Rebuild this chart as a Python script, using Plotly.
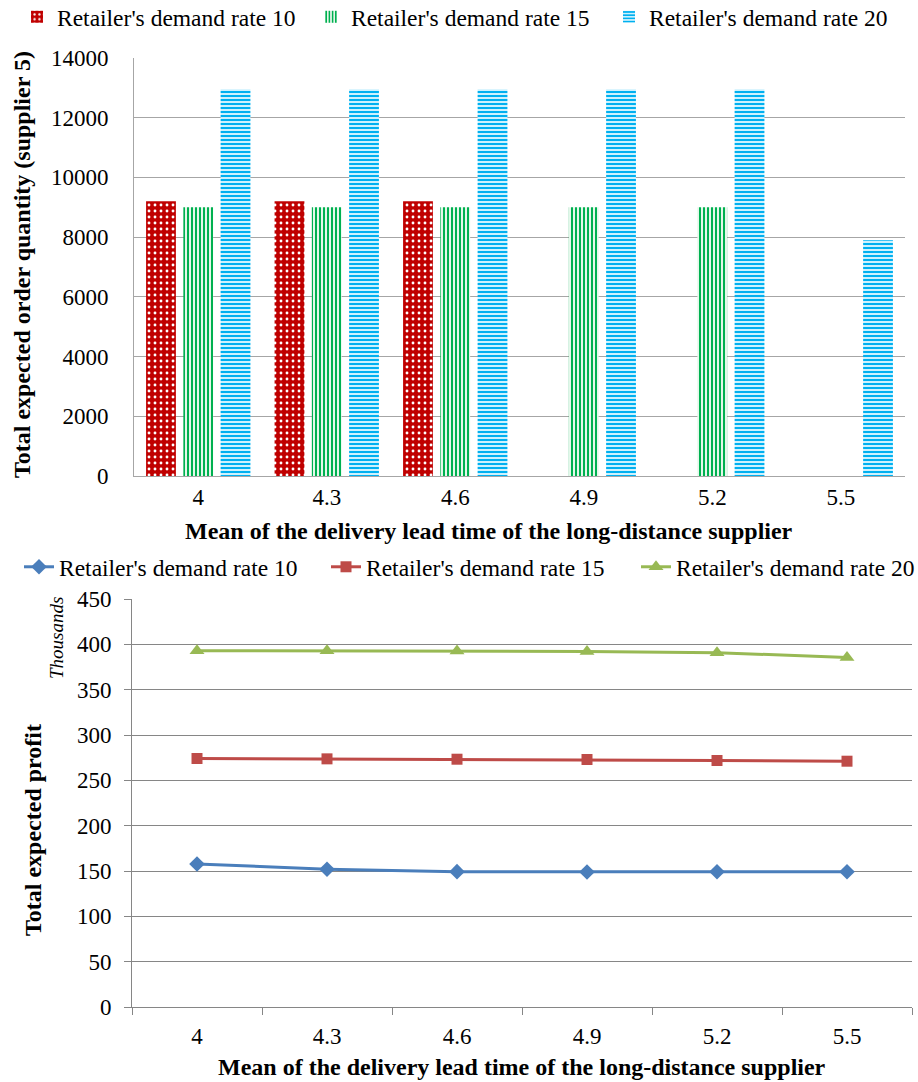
import plotly.graph_objects as go

# Categories: mean of the delivery lead time of the long-distance supplier
lead_times = ["4", "4.3", "4.6", "4.9", "5.2", "5.5"]

# Total expected order quantity (supplier 5)
order_rate10 = [9200, 9200, 9200, None, None, None]
order_rate15 = [9000, 9000, 9000, 9000, 9000, None]
order_rate20 = [12950, 12950, 12950, 12950, 12950, 7900]

# Total expected profit (thousands)
profit_rate10 = [157.8, 152.0, 149.3, 148.9, 149.2, 149.2]
profit_rate15 = [274.1, 273.7, 273.3, 273.0, 271.9, 271.1]
profit_rate20 = [393.0, 393.0, 392.6, 392.2, 390.7, 385.6]

series_names = ["Retailer's demand rate 10", "Retailer's demand rate 15", "Retailer's demand rate 20"]

W, H = 918, 1082
FONT = "Liberation Serif, Times New Roman, serif"


def px(x):
    return x / W


def py(y):
    return 1 - y / H


fig = go.Figure()

# --- bar chart (top): one legend box per series ---
bar_markers = [
    dict(color="#C00000", line=dict(width=0),
         pattern=dict(shape=".", fgcolor="white", fgopacity=1, size=6,
                      solidity=0.18, fillmode="overlay")),
    dict(color="#E4F7EA", line=dict(width=0),
         pattern=dict(shape="|", fgcolor="#00B050", fgopacity=1, size=4,
                      solidity=0.5, fillmode="overlay")),
    dict(color="#CDF1FD", line=dict(width=0),
         pattern=dict(shape="-", fgcolor="#00B0F0", fgopacity=1, size=4,
                      solidity=0.5, fillmode="overlay")),
]
bar_values = [order_rate10, order_rate15, order_rate20]
for i, (name, vals, mk) in enumerate(zip(series_names, bar_values, bar_markers)):
    fig.add_trace(go.Bar(
        x=lead_times, y=vals, name=name, marker=mk, showlegend=True,
        xaxis="x", yaxis="y", legend="legend" if i == 0 else f"legend{i + 1}",
    ))

# --- line chart (bottom) ---
line_styles = [
    (profit_rate10, "#4A7EBB", "diamond", 12),
    (profit_rate15, "#BE4B48", "square", 11),
    (profit_rate20, "#98B954", "triangle-up", 13),
]
for i, (name, (vals, col, sym, sz)) in enumerate(zip(series_names, line_styles)):
    fig.add_trace(go.Scatter(
        x=lead_times, y=vals, name=name, mode="lines+markers", showlegend=True,
        xaxis="x2", yaxis="y2", legend=f"legend{i + 4}",
        line=dict(color=col, width=3),
        marker=dict(symbol=sym, size=sz, color=col),
    ))

grid_col = "#A6A6A6"
axis_font = dict(family=FONT, size=23, color="black")
title_font = dict(family=FONT, size=24, color="black")
legend_font = dict(family=FONT, size=23.5, color="black")


def legend_box(x_px, y_px, yanchor="middle"):
    return dict(orientation="h", x=px(x_px), xanchor="left", y=py(y_px),
                yanchor=yanchor, font=legend_font, visible=True,
                bgcolor="rgba(0,0,0,0)", borderwidth=0)


fig.update_layout(
    width=W, height=H,
    showlegend=True,
    margin=dict(l=0, r=0, t=0, b=0, autoexpand=False),
    paper_bgcolor="white", plot_bgcolor="white",
    font=dict(family=FONT, size=22, color="black"),
    barmode="group", bargap=0.13, bargroupgap=0.2,
    xaxis=dict(domain=[px(134), px(905)], anchor="y", type="category",
               range=[-0.5, 5.5], automargin=False,
               showline=True, linecolor=grid_col, linewidth=1,
               ticks="", showgrid=False, tickfont=axis_font,
               ticklabelstandoff=0),
    yaxis=dict(domain=[py(476), py(58)], anchor="x", range=[0, 14000],
               dtick=2000, tickformat="d", automargin=False,
               showline=True, linecolor=grid_col, linewidth=1,
               showgrid=True, gridcolor=grid_col, gridwidth=1,
               ticks="", tickfont=axis_font, ticklabelstandoff=20,
               zeroline=False),
    xaxis2=dict(domain=[px(132), px(912)], anchor="y2", type="category",
                range=[-0.5, 5.5], automargin=False,
                showline=True, linecolor="#868686", linewidth=1,
                ticks="outside", ticklen=7, tickcolor="#868686",
                tickson="boundaries", showgrid=False, tickfont=axis_font,
                ticklabelstandoff=8),
    yaxis2=dict(domain=[py(1007), py(599)], anchor="x2", range=[0, 450],
                dtick=50, automargin=False,
                showline=True, linecolor="#868686", linewidth=1,
                showgrid=True, gridcolor="#868686", gridwidth=1,
                ticks="outside", ticklen=7, tickcolor="#868686",
                tickfont=axis_font, ticklabelstandoff=8, zeroline=False),
    legend=legend_box(17, 17),
    legend2=legend_box(311, 17),
    legend3=legend_box(609, 17),
    legend4=legend_box(19, 567),
    legend5=legend_box(326, 567),
    legend6=legend_box(636, 567),
    annotations=[
        dict(text="<b>Total expected order quantity (supplier 5)</b>",
             x=px(22), y=py(265), xref="paper", yref="paper",
             xanchor="center", yanchor="middle",
             textangle=-90, showarrow=False, font=title_font),
        dict(text="<b>Mean of the delivery lead time of the long-distance supplier</b>",
             x=px(489), y=py(531), xref="paper", yref="paper",
             xanchor="center", yanchor="middle",
             showarrow=False, font=title_font),
        dict(text="<b>Total expected profit</b>",
             x=px(33), y=py(830), xref="paper", yref="paper",
             xanchor="center", yanchor="middle",
             textangle=-90, showarrow=False, font=title_font),
        dict(text="<i>Thousands</i>",
             x=px(56), y=py(638), xref="paper", yref="paper",
             xanchor="center", yanchor="middle",
             textangle=-90, showarrow=False, font=dict(family=FONT, size=19)),
        dict(text="<b>Mean of the delivery lead time of the long-distance supplier</b>",
             x=px(522), y=py(1067), xref="paper", yref="paper",
             xanchor="center", yanchor="middle",
             showarrow=False, font=title_font),
    ],
)

fig.write_html("out.html")
